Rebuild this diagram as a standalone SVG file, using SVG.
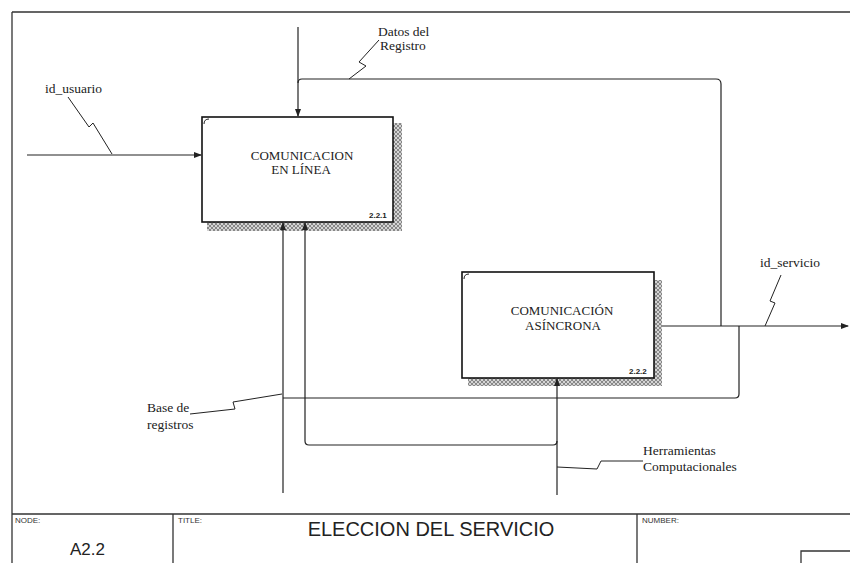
<svg xmlns="http://www.w3.org/2000/svg" width="850" height="563" viewBox="0 0 850 563">
<style>
.frame{fill:none;stroke:#333;stroke-width:1.3}
.box{fill:#fff;stroke:#111;stroke-width:1.6}
.shadow{fill:url(#hatch)}
.conn{fill:none;stroke:#222;stroke-width:1.2;stroke-linejoin:round}
.sq{fill:none;stroke:#222;stroke-width:1}
.btxt{font-family:"Liberation Serif",serif;font-size:13px;fill:#222;text-anchor:middle}
.lbl{font-family:"Liberation Serif",serif;font-size:13.5px;fill:#222}
.num{font-family:"Liberation Sans",sans-serif;font-size:8px;font-weight:bold;fill:#222}
.small{font-family:"Liberation Sans",sans-serif;font-size:8px;fill:#333}
.corner{fill:none;stroke:#222;stroke-width:1}
</style>
<defs>
<pattern id="hatch" width="4" height="4" patternUnits="userSpaceOnUse">
<rect width="4" height="4" fill="#d4d4d4"/>
<path d="M0,0 L4,4 M4,0 L0,4" stroke="#666" stroke-width="0.7"/>
</pattern>
<marker id="arr" markerWidth="8" markerHeight="6" refX="7" refY="3" orient="auto" markerUnits="userSpaceOnUse">
<path d="M0,0 L8,3 L0,6 Z" fill="#222"/>
</marker>
</defs>
<rect width="850" height="563" fill="#fff"/>
<g id="frame">
<path class="frame" d="M12,12 H850 M12,12 V563"/>
<path class="frame" d="M12,514 H850 M173,514 V563 M637,514 V563 M801,563 V551 H850"/>
<text class="small" x="15" y="523">NODE:</text>
<text class="small" x="178" y="523">TITLE:</text>
<text class="small" x="642" y="523">NUMBER:</text>
<text x="70" y="555" font-family="Liberation Sans, sans-serif" font-size="17" fill="#222">A2.2</text>
<text x="431" y="536" font-family="Liberation Sans, sans-serif" font-size="20" fill="#222" text-anchor="middle">ELECCION DEL SERVICIO</text>
</g>
<g id="node-221">
<rect class="shadow" x="393" y="123" width="9" height="108"/>
<rect class="shadow" x="207" y="222" width="195" height="9"/>
<rect class="box" x="202" y="117" width="191" height="105"/>
<path class="corner" d="M204,124 Q204,119 209,119"/>
<text class="btxt" x="302" y="160">COMUNICACION</text>
<text class="btxt" x="301" y="174">EN LÍNEA</text>
<text class="num" x="369" y="218">2.2.1</text>
</g>
<g id="node-222">
<rect class="shadow" x="654" y="280" width="8" height="106"/>
<rect class="shadow" x="468" y="378" width="194" height="8"/>
<rect class="box" x="462" y="272" width="192" height="106"/>
<path class="corner" d="M464,279 Q464,274 469,274"/>
<text class="btxt" x="562" y="315">COMUNICACIÓN</text>
<text class="btxt" x="563" y="330">ASÍNCRONA</text>
<text class="num" x="629" y="374">2.2.2</text>
</g>
<g id="connectors">
<path class="conn" d="M27,155 H201" marker-end="url(#arr)"/>
<path class="conn" d="M298,27 V116" marker-end="url(#arr)"/>
<path class="conn" d="M721,326 V84 Q721,79 716,79 H302 Q298,79 298,83"/>
<path class="conn" d="M662,326 H848" marker-end="url(#arr)"/>
<path class="conn" d="M739,326 V394 Q739,398 735,398 H283"/>
<path class="conn" d="M283,493 V223" marker-end="url(#arr)"/>
<path class="conn" d="M557,495 V379" marker-end="url(#arr)"/>
<path class="conn" d="M557,441 Q557,445 553,445 H309 Q305,445 305,441 V223" marker-end="url(#arr)"/>
<path class="sq" d="M68,97 L89,127 L93,123 L112,154"/>
<path class="sq" d="M349,79 L366,66 L359,62 L379,40"/>
<path class="sq" d="M765,326 L775,303 L770,301 L781,275"/>
<path class="sq" d="M190,414 L235,409 L233,402 L282,394"/>
<path class="sq" d="M557,467 L597,469 L601,461 L643,461"/>
<text class="lbl" x="378" y="36">Datos del</text>
<text class="lbl" x="380" y="50">Registro</text>
<text class="lbl" x="45" y="93">id_usuario</text>
<text class="lbl" x="760" y="267">id_servicio</text>
<text class="lbl" x="147" y="412">Base de</text>
<text class="lbl" x="147" y="429">registros</text>
<text class="lbl" x="643" y="455">Herramientas</text>
<text class="lbl" x="643" y="471">Computacionales</text>
</g>
</svg>
